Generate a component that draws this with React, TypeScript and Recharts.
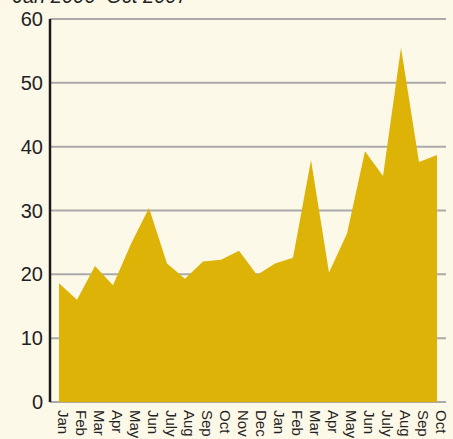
import { AreaChart, Area, XAxis, YAxis, CartesianGrid } from "recharts";

const MONTHS = [
  "Jan", "Feb", "Mar", "Apr", "May", "Jun", "July", "Aug", "Sep", "Oct", "Nov", "Dec",
  "Jan", "Feb", "Mar", "Apr", "May", "Jun", "July", "Aug", "Sep", "Oct",
];
const VALUES = [
  18.6, 16.0, 21.3, 18.3, 24.8, 30.4, 21.7, 19.3, 22.0, 22.3, 23.7, 19.9,
  21.7, 22.6, 37.9, 20.3, 26.4, 39.3, 35.4, 55.5, 37.6, 38.7,
];
const Y_TICKS = [0, 10, 20, 30, 40, 50, 60];
const TITLE = "Jan 2006–Oct 2007";

const BG = "#FDF9E9";
const FILL = "#DDB308";
const FONT = "'Liberation Sans', Arial, Helvetica, sans-serif";

const data = MONTHS.map((m, i) => ({ idx: i, month: m, value: VALUES[i] }));

function MonthTick(props: any) {
  const { x, payload } = props;
  const tx = x - 1;
  const ty = 410;
  return (
    <text
      x={tx}
      y={ty}
      transform={`rotate(90, ${tx}, ${ty})`}
      textAnchor="start"
      fill="#222"
      fontSize={15}
      fontFamily={FONT}
    >
      {MONTHS[payload.value]}
    </text>
  );
}

export default function App() {
  return (
    <div
      style={{
        position: "fixed",
        left: 0,
        top: 0,
        width: 453,
        height: 439,
        background: BG,
        overflow: "hidden",
      }}
    >
      {/* title sits mostly above the frame, as in the source */}
      <div
        style={{
          position: "absolute",
          left: 13,
          top: -15,
          fontSize: 20,
          fontStyle: "italic",
          fontFamily: FONT,
          color: "#222",
          whiteSpace: "nowrap",
          lineHeight: "23px",
        }}
      >
        {TITLE}
      </div>
      <AreaChart
        width={453}
        height={439}
        data={data}
        margin={{ top: 19, right: 7, bottom: 0, left: 0 }}
      >
        <CartesianGrid vertical={false} stroke="#AAAAAA" strokeWidth={2} />
        <XAxis
          dataKey="idx"
          type="category"
          axisLine={false}
          tickLine={false}
          interval={0}
          height={37}
          padding={{ left: 9, right: 9 }}
          tick={<MonthTick />}
        />
        <YAxis
          domain={[0, 60]}
          ticks={Y_TICKS}
          width={50}
          axisLine={{ stroke: "#1a1a1a", strokeWidth: 2.5 }}
          tickLine={false}
          tickSize={5}
          tickMargin={2}
          tick={{ fill: "#222", fontSize: 20, fontFamily: FONT }}
        />
        <Area
          type="linear"
          dataKey="value"
          stroke="none"
          fill={FILL}
          fillOpacity={1}
          isAnimationActive={false}
        />
      </AreaChart>
    </div>
  );
}
